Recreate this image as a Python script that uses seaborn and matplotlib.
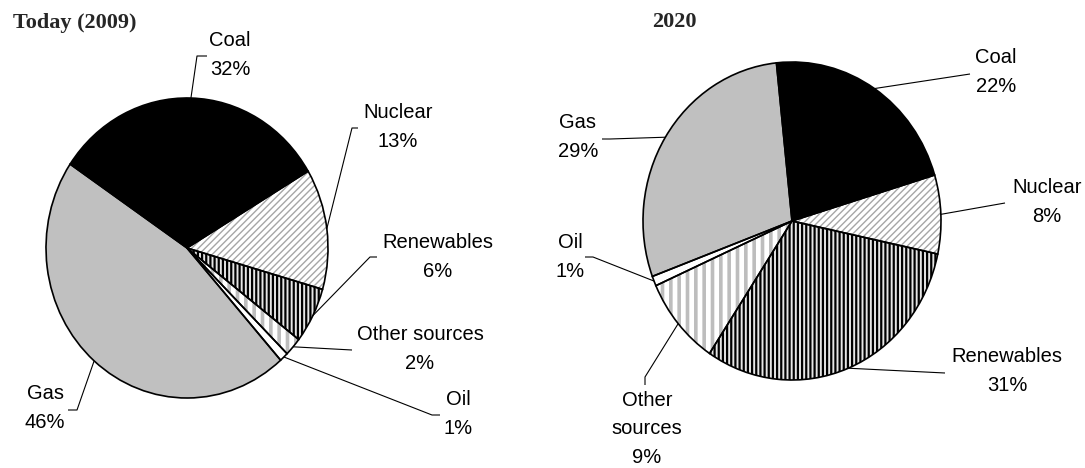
import numpy as np
import matplotlib
matplotlib.use("Agg")
import matplotlib.pyplot as plt
import seaborn as sns

sns.set_theme(style="white")
plt.rcParams["font.family"] = ["Liberation Sans", "DejaVu Sans"]
plt.rcParams["hatch.linewidth"] = 1.0

# ---------------- data ----------------
categories = ["Coal", "Nuclear", "Renewables", "Other sources", "Oil", "Gas"]
values_2009 = [32, 13, 6, 2, 1, 46]
values_2020 = [22, 8, 31, 9, 1, 29]
labels_2009 = ["Coal", "Nuclear", "Renewables", "Other sources", "Oil", "Gas"]
labels_2020 = ["Coal", "Nuclear", "Renewables", "Other\nsources", "Oil", "Gas"]
titles = ["Today (2009)", "2020"]

# styles per category
face_colors = ["#000000", "#ffffff", "#e6e6e6", "#ffffff", "#ffffff", "#c0c0c0"]
hatches = [None, "/////", "||||", "||", None, None]
hatch_colors = ["#000000", "#a6a6a6", "#000000", "#bdbdbd", "#ffffff", "#c0c0c0"]
hatch_widths = [1.0, 1.0, 1.6, 2.6, 1.0, 1.0]

W, H = 1085, 468
fig = plt.figure(figsize=(W / 100, H / 100), dpi=100)


def px_axes(cx, cy, rx, ry):
    return fig.add_axes([(cx - rx) / W, (H - cy - ry) / H, 2 * rx / W, 2 * ry / H])


ax1 = px_axes(187, 248, 141, 150)
ax2 = px_axes(792, 221, 149, 159)


def draw_pie(ax, vals, start):
    wedges, _ = ax.pie(vals, startangle=start, counterclock=False,
                       colors=face_colors, hatch=hatches,
                       wedgeprops=dict(linewidth=0))
    for w, hc, hw in zip(wedges, hatch_colors, hatch_widths):
        w.set_edgecolor(hc)
        w.set_linewidth(0)
        if hasattr(w, "set_hatch_linewidth"):
            w.set_hatch_linewidth(hw)
    ax.pie(vals, startangle=start, counterclock=False,
           wedgeprops=dict(fill=False, edgecolor="black", linewidth=1.2))
    ax.set_aspect("auto")
    ax.set_xlim(-1, 1)
    ax.set_ylim(-1, 1)
    ax.axis("off")
    return wedges


w1 = draw_pie(ax1, values_2009, 146)
w2 = draw_pie(ax2, values_2020, 96)


def to_data(ax, px, py):
    inv = ax.transData.inverted()
    return inv.transform((px, H - py))


# label layout (pixels): text centre, leader path points after the wedge edge
layout_2009 = [
    ((230, 55), [(197, 56), (207, 56)]),
    ((398, 127), [(352, 128), (358, 128)]),
    ((438, 257), [(370, 257), (377, 257)]),
    ((420, 349), [(352, 350)]),
    ((458, 414), [(432, 415), (440, 415)]),
    ((45, 408), [(77, 410), (68, 410)]),
]
layout_2020 = [
    ((647, 72 + 0), [(970, 74)]),
]
layout_2020 = [
    ((996, 72), [(970, 74)]),
    ((1047, 202), [(1005, 203)]),
    ((1007, 371), [(945, 373)]),
    ((647, 429), [(645, 377), (645, 385)]),
    ((570, 257), [(593, 257), (585, 257)]),
    ((578, 137), [(610, 139), (602, 139)]),
]


def annotate(ax, wedges, vals, labels, layout):
    fig.canvas.draw()
    for w, v, lab, (tpos, path) in zip(wedges, vals, labels, layout):
        mid = np.deg2rad((w.theta1 + w.theta2) / 2)
        pts = [(np.cos(mid), np.sin(mid))] + [tuple(to_data(ax, *p)) for p in path]
        xs, ys = zip(*pts)
        ax.plot(xs, ys, color="black", linewidth=0.8, clip_on=False,
                solid_capstyle="butt")
        tx, ty = to_data(ax, *tpos)
        ls = 1.66 if "\n" in lab else 1.72
        ax.text(tx, ty, f"{lab}\n{v}%", ha="center", va="center",
                fontsize=14.5, linespacing=ls, color="black", clip_on=False)


annotate(ax1, w1, values_2009, labels_2009, layout_2009)
annotate(ax2, w2, values_2020, labels_2020, layout_2020)

fig.text(13 / W, 1 - 23 / H, titles[0], ha="left", va="center",
         fontsize=16, fontweight="bold", family="Liberation Serif")
fig.text(674 / W, 1 - 22 / H, titles[1], ha="center", va="center",
         fontsize=16, fontweight="bold", family="Liberation Serif")

fig.savefig("out.png", dpi=100)
